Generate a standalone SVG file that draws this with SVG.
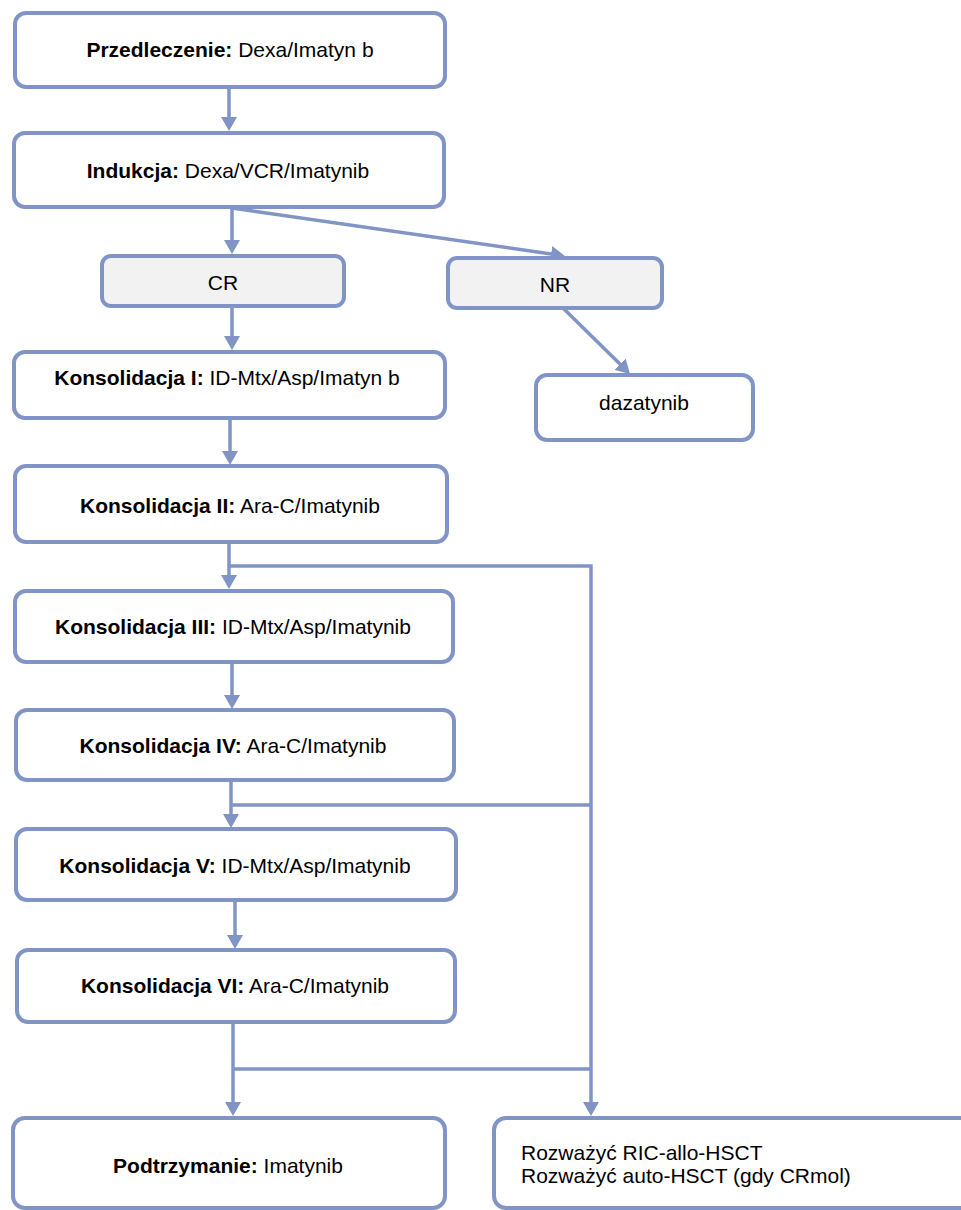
<svg xmlns="http://www.w3.org/2000/svg" width="961" height="1210" viewBox="0 0 961 1210">
<style>
.box{fill:#ffffff;stroke:#8094c6;stroke-width:4}
.grey{fill:#f2f2f2;stroke:#8094c6;stroke-width:4}
.t{font-family:"Liberation Sans",Arial,sans-serif;font-size:21px;fill:#000000}
.c{text-anchor:middle}
.b{font-weight:bold}
.conn{fill:none;stroke:#8094c6;stroke-width:3.5}
</style>
<defs>
<marker id="ah" markerUnits="userSpaceOnUse" markerWidth="14" markerHeight="16" refX="7" refY="8" orient="auto">
<path d="M0,0 L14,8 L0,16 z" fill="#8094c6"/>
</marker>
</defs>
<rect width="961" height="1210" fill="#ffffff"/>
<g id="connectors">
<line class="conn" x1="229" y1="87" x2="229" y2="124" marker-end="url(#ah)"/>
<line class="conn" x1="232" y1="208" x2="232" y2="247" marker-end="url(#ah)"/>
<line class="conn" x1="232" y1="208" x2="558" y2="255" marker-end="url(#ah)"/>
<line class="conn" x1="232" y1="306" x2="232" y2="343" marker-end="url(#ah)"/>
<line class="conn" x1="563" y1="308" x2="625" y2="369" marker-end="url(#ah)"/>
<line class="conn" x1="230" y1="418" x2="230" y2="458" marker-end="url(#ah)"/>
<line class="conn" x1="229" y1="542" x2="229" y2="582" marker-end="url(#ah)"/>
<polyline class="conn" points="229,566 591,566 591,1109" marker-end="url(#ah)"/>
<line class="conn" x1="232" y1="662" x2="232" y2="702" marker-end="url(#ah)"/>
<line class="conn" x1="231" y1="780" x2="231" y2="821" marker-end="url(#ah)"/>
<line class="conn" x1="231" y1="805" x2="591" y2="805"/>
<line class="conn" x1="235" y1="900" x2="235" y2="942" marker-end="url(#ah)"/>
<line class="conn" x1="233" y1="1022" x2="233" y2="1109" marker-end="url(#ah)"/>
<line class="conn" x1="233" y1="1069" x2="591" y2="1069"/>
</g>
<g id="n-przedleczenie">
<rect class="box" x="15" y="13" width="430" height="74" rx="11"/>
<text class="t c" x="230" y="57"><tspan class="b">Przedleczenie:</tspan> Dexa/Imatyn b</text>
</g>
<g id="n-indukcja">
<rect class="box" x="14" y="133" width="430" height="74" rx="11"/>
<text class="t c" x="228" y="178"><tspan class="b">Indukcja:</tspan> Dexa/VCR/Imatynib</text>
</g>
<g id="n-cr">
<rect class="grey" x="102" y="256" width="242" height="50" rx="9"/>
<text class="t c" x="223" y="290">CR</text>
</g>
<g id="n-nr">
<rect class="grey" x="448" y="258" width="214" height="50" rx="9"/>
<text class="t c" x="555" y="292">NR</text>
</g>
<g id="n-kons1">
<rect class="box" x="14" y="352" width="431" height="66" rx="11"/>
<text class="t c" x="227" y="385"><tspan class="b">Konsolidacja I:</tspan> ID-Mtx/Asp/Imatyn b</text>
</g>
<g id="n-dazatynib">
<rect class="box" x="536" y="375" width="217" height="65" rx="11"/>
<text class="t c" x="644" y="410">dazatynib</text>
</g>
<g id="n-kons2">
<rect class="box" x="15" y="466" width="432" height="76" rx="11"/>
<text class="t c" x="230" y="513"><tspan class="b">Konsolidacja II:</tspan> Ara-C/Imatynib</text>
</g>
<g id="n-kons3">
<rect class="box" x="15" y="591" width="438" height="71" rx="11"/>
<text class="t c" x="233" y="634"><tspan class="b">Konsolidacja III:</tspan> ID-Mtx/Asp/Imatynib</text>
</g>
<g id="n-kons4">
<rect class="box" x="16" y="710" width="438" height="70" rx="11"/>
<text class="t c" x="233" y="753"><tspan class="b">Konsolidacja IV:</tspan> Ara-C/Imatynib</text>
</g>
<g id="n-kons5">
<rect class="box" x="16" y="829" width="440" height="71" rx="11"/>
<text class="t c" x="235" y="873"><tspan class="b">Konsolidacja V:</tspan> ID-Mtx/Asp/Imatynib</text>
</g>
<g id="n-kons6">
<rect class="box" x="17" y="950" width="438" height="72" rx="11"/>
<text class="t c" x="235" y="993"><tspan class="b">Konsolidacja VI:</tspan> Ara-C/Imatynib</text>
</g>
<g id="n-podtrzymanie">
<rect class="box" x="13" y="1118" width="432" height="90" rx="12"/>
<text class="t c" x="228" y="1173"><tspan class="b">Podtrzymanie:</tspan> Imatynib</text>
</g>
<g id="n-hsct">
<rect class="box" x="494" y="1118" width="500" height="90" rx="12"/>
<text class="t" x="521" y="1160">Rozważyć RIC-allo-HSCT</text>
<text class="t" x="521" y="1183">Rozważyć auto-HSCT (gdy CRmol)</text>
</g>
</svg>
